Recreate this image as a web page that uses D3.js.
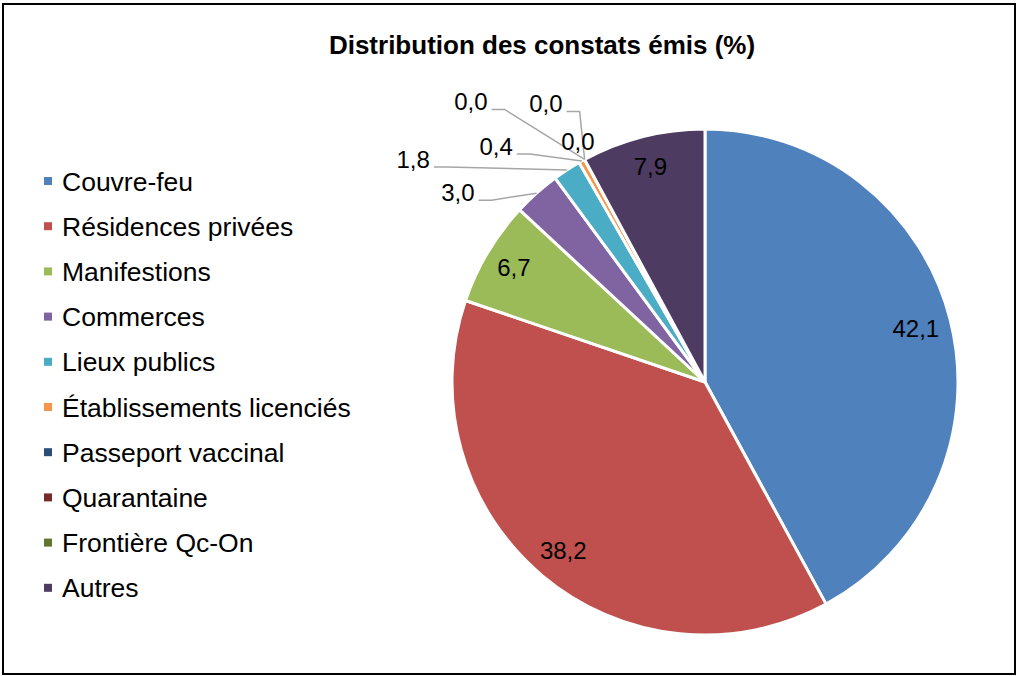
<!DOCTYPE html>
<html>
<head>
<meta charset="utf-8">
<script src="https://cdn.jsdelivr.net/npm/d3@7"></script>
<style>
  body { margin: 0; background: #fff; }
  svg text { font-family: "Liberation Sans", Arial, sans-serif; fill: #000; }
</style>
</head>
<body>
<div id="chart"></div>
<script>
var categories = ["Couvre-feu", "Résidences privées", "Manifestions", "Commerces", "Lieux publics",
                  "Établissements licenciés", "Passeport vaccinal", "Quarantaine", "Frontière Qc-On", "Autres"];
var values = [42.1, 38.2, 6.7, 3.0, 1.8, 0.4, 0.0, 0.0, 0.0, 7.9];
var colors = ["#4F81BD", "#C0504D", "#9BBB59", "#8064A2", "#4BACC6",
              "#F79646", "#2C4D75", "#772C2A", "#5F7530", "#4D3B62"];

// where each label goes: inside the slice, or pulled out with a leader line
// (dx, dy = label end/baseline relative to the slice's outer edge point)
var labelLayout = [
    {inside: 0.86}, {inside: 0.87}, {inside: 0.88},
    {dx: -62, dy: 8}, {dx: -137, dy: -2}, {dx: -69, dy: -6},
    {dx: -97, dy: -49}, {dx: -22, dy: -47}, {dx: 10, dy: -9, noLine: true},
    {inside: 0.88}
];

var width = 1021, height = 676;
var cx = 705, cy = 382, radius = 253;

var svg = d3.select("#chart").append("svg")
    .attr("width", width)
    .attr("height", height);

// frame
svg.append("rect")
    .attr("x", 3).attr("y", 4)
    .attr("width", 1012).attr("height", 670)
    .attr("fill", "none")
    .attr("stroke", "#000")
    .attr("stroke-width", 2);

svg.append("text")
    .attr("x", 542).attr("y", 54)
    .attr("text-anchor", "middle")
    .style("font-size", "26px")
    .style("font-weight", "bold")
    .text("Distribution des constats émis (%)");

var fmt = function (v) { return v.toFixed(1).replace(".", ","); };

var pie = d3.pie().sort(null).value(function (d) { return d; });
var arcs = pie(values);
var arc = d3.arc().innerRadius(0).outerRadius(radius);

var g = svg.append("g").attr("transform", "translate(" + cx + "," + cy + ")");

g.selectAll("path.slice")
    .data(arcs)
    .enter().append("path")
    .attr("class", "slice")
    .attr("d", arc)
    .attr("fill", function (d, i) { return colors[i]; })
    .attr("stroke", "#fff")
    .attr("stroke-width", 3)
    .attr("stroke-linejoin", "round");

var polar = function (a, r) { return [r * Math.sin(a), -r * Math.cos(a)]; };

arcs.forEach(function (d, i) {
    var lay = labelLayout[i];
    var mid = (d.startAngle + d.endAngle) / 2;
    if (lay.inside) {
        var p = polar(mid, radius * lay.inside);
        g.append("text")
            .attr("x", p[0]).attr("y", p[1])
            .attr("text-anchor", "middle")
            .attr("dy", "0.35em")
            .style("font-size", "24px")
            .text(fmt(values[i]));
        return;
    }
    var e = polar(mid, radius);
    var tx = e[0] + lay.dx, ty = e[1] + lay.dy;
    g.append("text")
        .attr("x", tx).attr("y", ty)
        .attr("text-anchor", "end")
        .style("font-size", "24px")
        .text(fmt(values[i]));
    if (lay.noLine) return;
    var sx = tx + 4, sy = ty - 1;
    var pts = [[sx, sy], [sx + 13, sy], e];
    g.append("path")
        .attr("d", d3.line()(pts))
        .attr("fill", "none")
        .attr("stroke", "#A6A6A6")
        .attr("stroke-width", 1.5);
});

// legend
var legend = svg.append("g");
var rows = legend.selectAll("g")
    .data(categories)
    .enter().append("g")
    .attr("transform", function (d, i) { return "translate(44," + (181 + i * 45.2) + ")"; });
rows.append("rect")
    .attr("x", 0).attr("y", -4)
    .attr("width", 8).attr("height", 8)
    .attr("fill", function (d, i) { return colors[i]; });
rows.append("text")
    .attr("x", 18).attr("y", 0)
    .attr("dy", "0.36em")
    .style("font-size", "26.5px")
    .text(function (d) { return d; });
</script>
</body>
</html>
